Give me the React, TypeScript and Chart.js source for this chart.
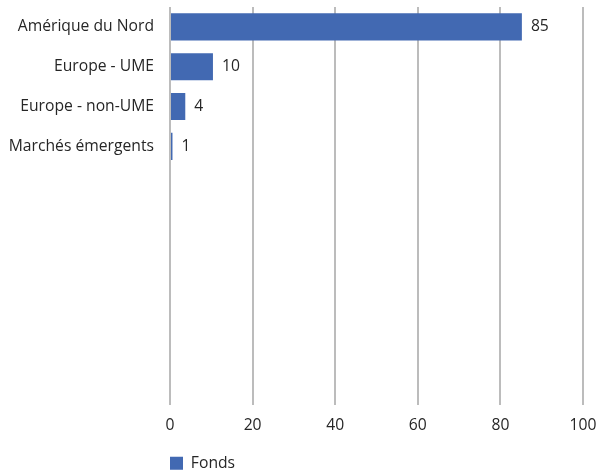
import React, { useEffect, useRef } from "react";
import { Chart, registerables } from "chart.js";

Chart.register(...registerables);

const categories = [
  "Amérique du Nord",
  "Europe - UME",
  "Europe - non-UME",
  "Marchés émergents",
  "",
  "",
  "",
  "",
  "",
  "",
];
const fondsValues = [85.2, 10.4, 3.7, 0.6, null, null, null, null, null, null];
const seriesName = "Fonds";
const xTicks = [0, 20, 40, 60, 80, 100];

const FONT = "'Open Sans', 'Noto Sans', sans-serif";
const FS = 15.7;
const TEXT = "#262626";
const BAR = "#4269B2";

const labelPlugin = {
  id: "barValueLabels",
  afterDatasetsDraw(chart: any) {
    const ctx = chart.ctx;
    const meta = chart.getDatasetMeta(0);
    const data = chart.data.datasets[0].data;
    ctx.save();
    ctx.font = `${FS}px ${FONT}`;
    ctx.fillStyle = TEXT;
    ctx.textAlign = "left";
    ctx.textBaseline = "middle";
    meta.data.forEach((el: any, i: number) => {
      const v = data[i];
      if (v === null || v === undefined) return;
      ctx.fillText(String(Math.round(v)), el.x + 9, el.y);
    });
    ctx.restore();
  },
};

export default function App() {
  const ref = useRef<HTMLCanvasElement>(null);
  useEffect(() => {
    document.body.style.margin = "0";
    const chart = new Chart(ref.current!, {
      type: "bar",
      data: {
        labels: categories,
        datasets: [
          {
            label: seriesName,
            data: fondsValues,
            backgroundColor: BAR,
            borderWidth: 0,
            categoryPercentage: 1,
            barPercentage: 0.68,
          },
        ],
      },
      options: {
        indexAxis: "y",
        animation: false,
        responsive: false,
        maintainAspectRatio: false,
        layout: { padding: { top: 7, right: 14, bottom: -8, left: 0 } },
        plugins: {
          tooltip: { enabled: false },
          legend: {
            position: "bottom",
            align: "start",
            fullSize: false,
            labels: {
              boxWidth: 13,
              boxHeight: 13,
              padding: 0,
              color: TEXT,
              font: { family: FONT, size: FS },
            },
          },
        },
        scales: {
          x: {
            min: 0,
            max: 100,
            afterBuildTicks: (s: any) => {
              s.ticks = xTicks.map((v) => ({ value: v }));
            },
            afterFit: (s: any) => {
              s.height = 50;
              s.paddingLeft = 0;
              s.paddingRight = 0;
              s.paddingTop = 0;
              s.paddingBottom = 0;
            },
            grid: { color: "#bcbcbc", lineWidth: 2, drawTicks: false },
            border: { display: false },
            ticks: {
              padding: 11,
              color: TEXT,
              font: { family: FONT, size: FS },
            },
          },
          y: {
            afterFit: (s: any) => {
              s.width = 170;
              s.paddingLeft = 0;
              s.paddingRight = 0;
              s.paddingTop = 0;
              s.paddingBottom = 0;
            },
            grid: { display: false, drawTicks: false },
            border: { display: false },
            ticks: {
              padding: 16,
              autoSkip: false,
              color: TEXT,
              font: { family: FONT, size: FS },
            },
          },
        },
      } as any,
      plugins: [labelPlugin],
    });
    return () => chart.destroy();
  }, []);
  return <canvas ref={ref} width={597} height={473} style={{ display: "block" }} />;
}
